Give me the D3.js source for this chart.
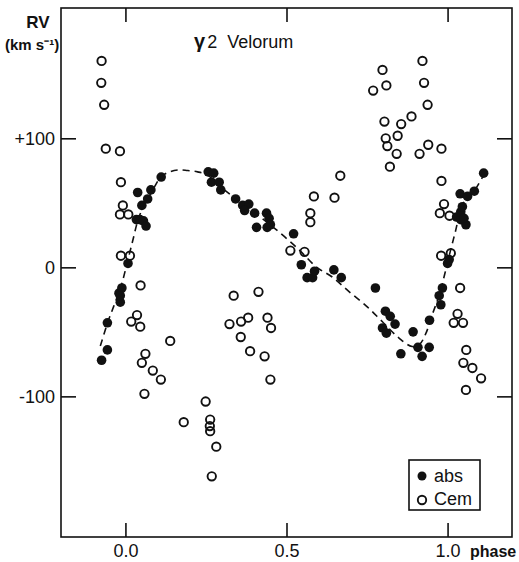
<!DOCTYPE html>
<html>
<head>
<meta charset="utf-8">
<script src="https://cdn.jsdelivr.net/npm/d3@7"></script>
<style>
  body { margin: 0; background: #fff; }
  text { font-family: 'Liberation Sans', Arial, sans-serif; fill: #111; }
</style>
</head>
<body>
<div id="chart"></div>
<script>
// Radial velocity curve of gamma2 Velorum

// absorption lines (filled dots)
const absPhase = [-0.074, -0.056, -0.056, -0.016, -0.020, -0.011, -0.016, 0.008, 0.034, 0.045, 0.056, 0.064,
  0.051, 0.069, 0.038, 0.079, 0.111, 0.257, 0.274, 0.267, 0.291, 0.296, 0.342, 0.364, 0.383, 0.370, 0.401,
  0.438, 0.446, 0.440, 0.450, 0.407, 0.522, 0.546, 0.564, 0.581, 0.587, 0.647, 0.670, 0.776, 0.807, 0.822,
  0.837, 0.798, 0.810, 0.855, 0.893, 0.908, 0.943, 0.921, 0.944, 0.974, 0.979, 0.984, 1.000, 1.005, 1.028,
  1.041, 1.057, 1.041, 1.046, 1.039, 1.062, 1.083, 1.112, 1.051];
const absRV = [-72, -64, -43, -27, -20, -16, -22, 3, 37, 37, 36, 32,
  48, 53, 58, 60, 70, 74, 73, 66, 66, 60, 53, 48, 49, 44, 42,
  42, 38, 31, 33, 31, 26, 2, -8, -8, -3, -2, -8, -16, -34, -38,
  -44, -47, -51, -67, -50, -62, -62, -69, -41, -22, -29, -16, 3, 6, 39,
  37, 33, 43, 47, 57, 55, 59, 73, 38];

// C emission lines (open circles)
const cemPhase = [-0.074, -0.075, -0.066, -0.061, -0.017, -0.014, -0.008, -0.017, 0.009, -0.014, 0.014, 0.047,
  0.036, 0.018, 0.046, 0.139, 0.062, 0.051, 0.085, 0.110, 0.059, 0.181, 0.249, 0.263, 0.262, 0.263, 0.282,
  0.268, 0.336, 0.413, 0.323, 0.359, 0.381, 0.441, 0.452, 0.358, 0.387, 0.432, 0.450, 0.512, 0.556, 0.574,
  0.574, 0.585, 0.649, 0.667, 0.798, 0.810, 0.769, 0.804, 0.856, 0.888, 0.845, 0.808, 0.813, 0.842, 0.821,
  0.922, 0.927, 0.938, 0.913, 0.940, 0.981, 0.981, 0.989, 0.976, 1.006, 0.980, 1.010, 1.039, 1.031, 1.019,
  1.048, 1.058, 1.049, 1.077, 1.104, 1.057];
const cemRV = [160, 143, 126, 92, 90, 66, 48, 41, 41, 9, 9, -14,
  -37, -42, -46, -57, -67, -74, -80, -87, -98, -120, -104, -118, -123, -127, -139,
  -162, -22, -19, -44, -42, -39, -39, -47, -54, -65, -69, -87, 13, 12, 42,
  35, 55, 54, 71, 153, 141, 137, 113, 111, 117, 102, 100, 94, 88, 78,
  160, 143, 126, 88, 95, 92, 67, 49, 42, 40, 9, 11, -16, -36, -43,
  -43, -64, -74, -78, -86, -95];

// dashed mean curve
const curvePhase = [-0.078, -0.054, -0.033, -0.014, 0.004, 0.023, 0.042, 0.063, 0.085, 0.110, 0.137, 0.162,
  0.193, 0.224, 0.255, 0.293, 0.336, 0.395, 0.469, 0.540, 0.593, 0.642, 0.695, 0.748, 0.797, 0.850, 0.890,
  0.912, 0.933, 0.952, 0.974, 0.992, 1.008, 1.024, 1.039, 1.054, 1.082, 1.113];
const curveRV = [-61, -42, -28, -15, 2, 21, 39, 50, 60, 70, 74, 75.5,
  75, 74, 71.5, 63, 54.5, 43.6, 29, 13.4, 0.2, -7.5, -19, -30, -42, -55, -61.4,
  -60, -51, -37, -21.5, -4.4, 12, 27.4, 43, 52, 59, 72];

const xTicks = [0, 0.5, 1.0];
const yTicks = [-100, 0, 100];

const width = 519;
const height = 562;
const margin = { top: 8, right: 7, bottom: 25, left: 61 };

const svg = d3.select('#chart')
  .append('svg')
  .attr('width', width)
  .attr('height', height);

const x = d3.scaleLinear().domain([-0.2, 1.2]).range([margin.left, width - margin.right]);
const y = d3.scaleLinear().domain([-209, 201]).range([height - margin.bottom, margin.top]);

// Frame
svg.append('rect')
  .attr('x', x(-0.2))
  .attr('y', y(201))
  .attr('width', x(1.2) - x(-0.2))
  .attr('height', y(-209) - y(201))
  .attr('fill', 'none')
  .attr('stroke', '#111')
  .style('stroke-width', '1.6px');

// Axes, ticks pointing inwards
const axes = [
  svg.append('g').attr('transform', `translate(0,${y(-209)})`)
    .call(d3.axisBottom(x).tickValues(xTicks).tickSize(-14).tickPadding(7).tickFormat(d3.format('.1f'))),
  svg.append('g').attr('transform', `translate(0,${y(201)})`)
    .call(d3.axisTop(x).tickValues(xTicks).tickSize(-14).tickFormat('')),
  svg.append('g').attr('transform', `translate(${x(-0.2)},0)`)
    .call(d3.axisLeft(y).tickValues(yTicks).tickSize(-15).tickPadding(6)
      .tickFormat((d) => (d > 0 ? '+' + d : d < 0 ? '-' + Math.abs(d) : '0'))),
  svg.append('g').attr('transform', `translate(${x(1.2)},0)`)
    .call(d3.axisRight(y).tickValues(yTicks).tickSize(-15).tickFormat('')),
];
axes.forEach((g) => {
  g.select('.domain').remove();
  g.selectAll('line').attr('stroke', '#111').style('stroke-width', '1.6px');
  g.selectAll('text').style('font-size', '18px').attr('fill', '#111');
});

// Dashed curve
const line = d3.line()
  .x((d, i) => x(curvePhase[i]))
  .y((d, i) => y(curveRV[i]))
  .curve(d3.curveCatmullRom);
svg.append('path')
  .attr('d', line(curvePhase))
  .attr('fill', 'none')
  .attr('stroke', '#111')
  .style('stroke-width', '1.6px')
  .style('stroke-dasharray', '7,5');

// Cem points
svg.selectAll('.cem')
  .data(cemPhase)
  .enter()
  .append('circle')
  .attr('class', 'cem')
  .attr('cx', (d) => x(d))
  .attr('cy', (d, i) => y(cemRV[i]))
  .attr('r', 4.2)
  .attr('fill', 'none')
  .attr('stroke', '#111')
  .style('stroke-width', '1.9px');

// abs points
svg.selectAll('.abs')
  .data(absPhase)
  .enter()
  .append('circle')
  .attr('class', 'abs')
  .attr('cx', (d) => x(d))
  .attr('cy', (d, i) => y(absRV[i]))
  .attr('r', 4.8)
  .attr('fill', '#111');

// Axis titles
svg.append('text').attr('x', 38).attr('y', 28).attr('text-anchor', 'middle')
  .style('font-size', '17px').style('font-weight', 'bold').text('RV');
svg.append('text').attr('x', 5).attr('y', 50)
  .style('font-size', '15px').style('font-weight', 'bold').text('(km s⁻¹)');
svg.append('text').attr('x', 470).attr('y', 557)
  .style('font-size', '16px').style('font-weight', 'bold').text('phase');

// Title
const title = svg.append('text').attr('x', 194).attr('y', 48).style('font-size', '18px');
title.append('tspan').style('font-weight', 'bold').style('font-size', '20px').text('γ');
title.append('tspan').attr('dx', 2).text('2');
title.append('tspan').attr('dx', 10).text('Velorum');

// Legend
const legend = svg.append('g').attr('transform', 'translate(409,460)');
legend.append('rect')
  .attr('width', 71)
  .attr('height', 50)
  .attr('fill', '#fff')
  .attr('stroke', '#111')
  .style('stroke-width', '1.6px');
legend.append('circle').attr('cx', 13).attr('cy', 16).attr('r', 4.5).attr('fill', '#111');
legend.append('circle').attr('cx', 13).attr('cy', 40).attr('r', 4.2)
  .attr('fill', 'none').attr('stroke', '#111').style('stroke-width', '1.9px');
legend.append('text').attr('x', 25).attr('y', 22).style('font-size', '18px').text('abs');
legend.append('text').attr('x', 25).attr('y', 45).style('font-size', '18px').text('Cem');
</script>
</body>
</html>
